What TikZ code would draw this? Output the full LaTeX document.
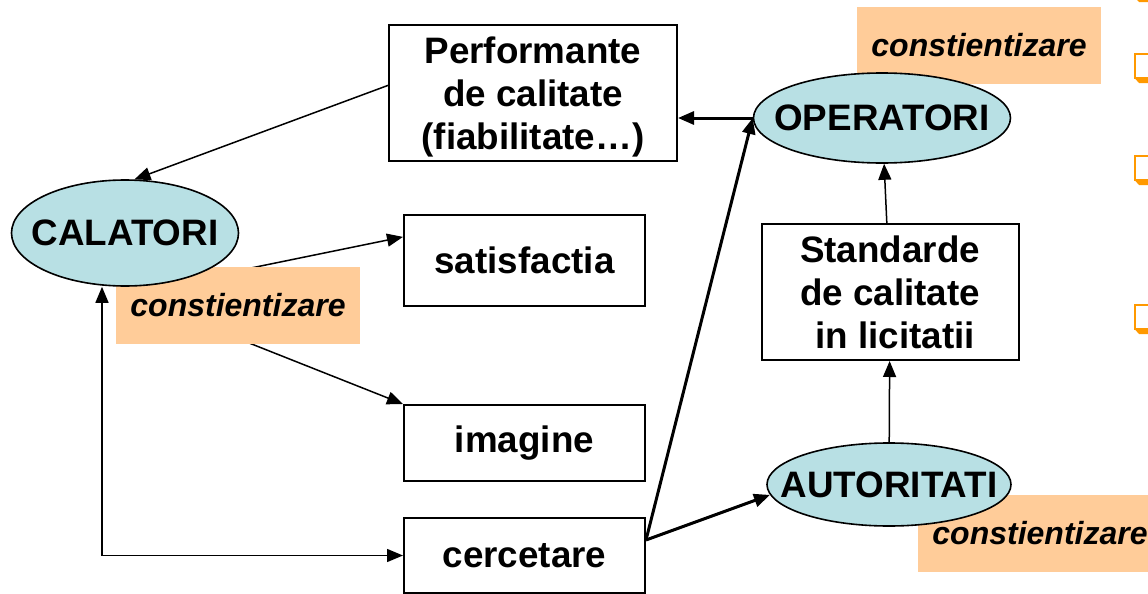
\documentclass[tikz,border=0pt]{standalone}
\usepackage{fontspec}
\setmainfont{Liberation Sans}
\usepackage{xcolor}
\usetikzlibrary{
    arrows.meta,
    shapes,
    positioning,
    backgrounds
}
\definecolor{actorfill}{RGB}{184,224,228}
\definecolor{notefill}{RGB}{255,204,153}
\definecolor{bulletorange}{RGB}{255,153,0}

\begin{document}
\begin{tikzpicture}[x=0.5pt, y=-0.5pt,
    >={Triangle[length=8pt,width=6.5pt]},
    box/.style={draw, line width=1pt, inner sep=0pt, align=center,
        font=\fontsize{18.4}{21.5}\selectfont\bfseries},
    actor/.style={ellipse, draw, line width=0.8pt, fill=actorfill, inner sep=0pt,
        font=\fontsize{18.4}{21.5}\selectfont\bfseries},
    note/.style={fill=notefill, inner sep=0pt, minimum width=122pt, minimum height=38.5pt,
        font=\fontsize{16}{19}\selectfont\bfseries\itshape},
    link/.style={line width=0.75pt, ->},
    dlink/.style={line width=0.75pt, <->},
    boldlink/.style={line width=1.5pt, ->},
    bul/.style={draw=bulletorange, line width=1pt}]
                    \useasboundingbox (0,0) rectangle (1148,594);

                    % awareness notes
                    \node[note] (n1) at (238,305.5) {constientizare};
                    \node[note] (n2) at (979,45.5) {constientizare};
                    \node[note] (n3) at (1040,533) {constientizare};

                    % actors
                    \node[actor, minimum width=113.5pt, minimum height=53pt] (cal) at (125,233) {\makebox[0pt]{CALATORI}};
                    \node[actor, minimum width=128.5pt, minimum height=45pt] (op) at (882,118) {\makebox[0pt]{OPERATORI}};
                    \node[actor, minimum width=122pt, minimum height=41.5pt] (aut) at (889,484.5) {\makebox[0pt]{AUTORITATI}};

                    % boxes
                    \node[box, minimum width=144pt, minimum height=68pt, text depth=0pt] (perf) at (533,93) {Performante\\de calitate\\(fiabilitate…)};
                    \node[box, minimum width=120.5pt, minimum height=45.5pt] (sat) at (524.5,260.5) {satisfactia};
                    \node[box, minimum width=120.5pt, minimum height=38pt] (img) at (524.5,443) {imagine};
                    \node[box, minimum width=120.5pt, minimum height=37.5pt] (cerc) at (524.5,555.5) {cercetare};
                    \node[box, minimum width=128.5pt, minimum height=68pt] (std) at (890,292) {Standarde\\de calitate\\\ in licitatii};

                    \coordinate (calout) at ([yshift=-3.5pt]cal.south);
                    \coordinate (lft) at (102,555.5);
                    \coordinate (fork) at ([yshift=7.75pt]cerc.east);

                    \begin{scope}[on background layer]
                    \draw[link] (calout) -- (sat.169);
                    \draw[link] (calout) -- (img.north west);
                    \end{scope}

                    \draw[link] (perf.177) -- (cal.80);
                    \draw[dlink] (cal.south -| lft) -- (lft) -- (cerc.west);
                    \draw[boldlink] (op.west) -- (op.west -| perf.east);
                    \draw[boldlink] (fork) -- (op.west);
                    \draw[boldlink] (fork) -- (aut.185);
                    \draw[link] (std) -- (op);
                    \draw[link] (aut) -- (std);

                    % bullets cut by the right edge
                    \foreach \t in {-27,54,156,305} {
                        \draw[bul] (1135,\t) rectangle (1165,\t+24);
                        \fill[bulletorange] (1134.5,\t+24) -- (1139,\t+29) -- (1165,\t+29) -- (1165,\t+24) -- cycle;
                    }
\end{tikzpicture}
\end{document}
